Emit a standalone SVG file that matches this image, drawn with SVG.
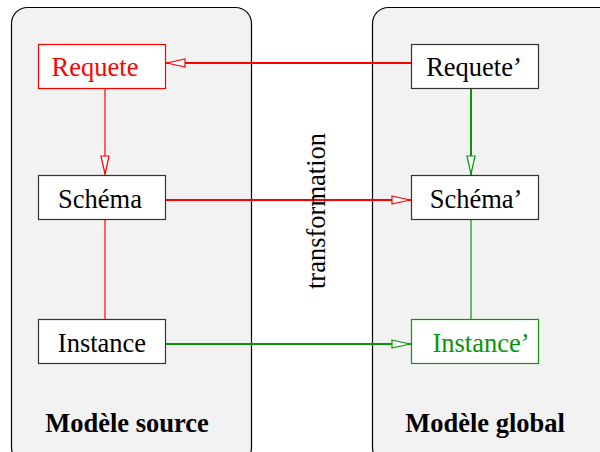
<svg xmlns="http://www.w3.org/2000/svg" width="600" height="452" viewBox="0 0 600 452">
<defs>
<style>
.panel{fill:#f2f2f2;stroke:#000;stroke-width:1.2}
.box{fill:#fff;stroke:#333;stroke-width:1.2}
.rbox{fill:#fff;stroke:#ff0000;stroke-width:1.2}
.gbox{fill:#fff;stroke:#0a940a;stroke-width:1.2}
.lbl{font-family:"Liberation Serif","Times New Roman",serif;font-size:26.5px;text-anchor:middle;fill:#000}
.title{font-family:"Liberation Serif","Times New Roman",serif;font-size:26.5px;font-weight:bold;text-anchor:middle;fill:#000}
.red{stroke:#ff0000;fill:none}
.green{stroke:#0a940a;fill:none}
</style>
<marker id="ar" viewBox="0 0 20 10" refX="20" refY="5" markerWidth="20" markerHeight="10" markerUnits="userSpaceOnUse" orient="auto">
<path d="M1,1 L19,5 L1,9 Z" fill="#fff" stroke="#ff0000" stroke-width="1.2"/>
</marker>
<marker id="ag" viewBox="0 0 20 10" refX="20" refY="5" markerWidth="20" markerHeight="10" markerUnits="userSpaceOnUse" orient="auto">
<path d="M1,1 L19,5 L1,9 Z" fill="#fff" stroke="#0a940a" stroke-width="1.2"/>
</marker>
</defs>
<rect width="600" height="452" fill="#fff"/>
<g id="panel-source">
<rect class="panel" x="11.5" y="7.5" width="240" height="456" rx="16"/>
<text class="title" x="127" y="432">Modèle source</text>
</g>
<g id="panel-global">
<rect class="panel" x="372.5" y="7.5" width="260" height="456" rx="16"/>
<text class="title" x="485" y="432">Modèle global</text>
</g>
<g id="connectors">
<line class="red" x1="411" y1="63" x2="166" y2="63" stroke-width="2" marker-end="url(#ar)"/>
<line class="red" x1="105" y1="88" x2="105" y2="175" stroke-width="1.2" marker-end="url(#ar)"/>
<line class="red" x1="165" y1="200" x2="411" y2="200" stroke-width="2" marker-end="url(#ar)"/>
<line class="red" x1="105" y1="219" x2="105" y2="319" stroke-width="1.2"/>
<line class="green" x1="471" y1="88" x2="471" y2="175" stroke-width="2" marker-end="url(#ag)"/>
<line class="green" x1="471" y1="219" x2="471" y2="319" stroke-width="1.2"/>
<line class="green" x1="165" y1="344" x2="411" y2="344" stroke-width="2" marker-end="url(#ag)"/>
<text class="lbl" transform="translate(325,211) rotate(-90)">transformation</text>
</g>
<g id="requete">
<rect class="rbox" x="38.5" y="44.5" width="127" height="44"/>
<text class="lbl" x="95" y="76" style="fill:#ff0000">Requete</text>
</g>
<g id="schema">
<rect class="box" x="38.5" y="175.5" width="127" height="44"/>
<text class="lbl" x="100" y="208">Schéma</text>
</g>
<g id="instance">
<rect class="box" x="38.5" y="319.5" width="127" height="44"/>
<text class="lbl" x="102" y="352">Instance</text>
</g>
<g id="requete-prime">
<rect class="box" x="411.5" y="44.5" width="127" height="44"/>
<text class="lbl" x="474" y="76">Requete’</text>
</g>
<g id="schema-prime">
<rect class="box" x="411.5" y="175.5" width="127" height="44"/>
<text class="lbl" x="476" y="208">Schéma’</text>
</g>
<g id="instance-prime">
<rect class="gbox" x="411.5" y="319.5" width="127" height="44"/>
<text class="lbl" x="481" y="352" style="fill:#0a940a">Instance’</text>
</g>
</svg>
